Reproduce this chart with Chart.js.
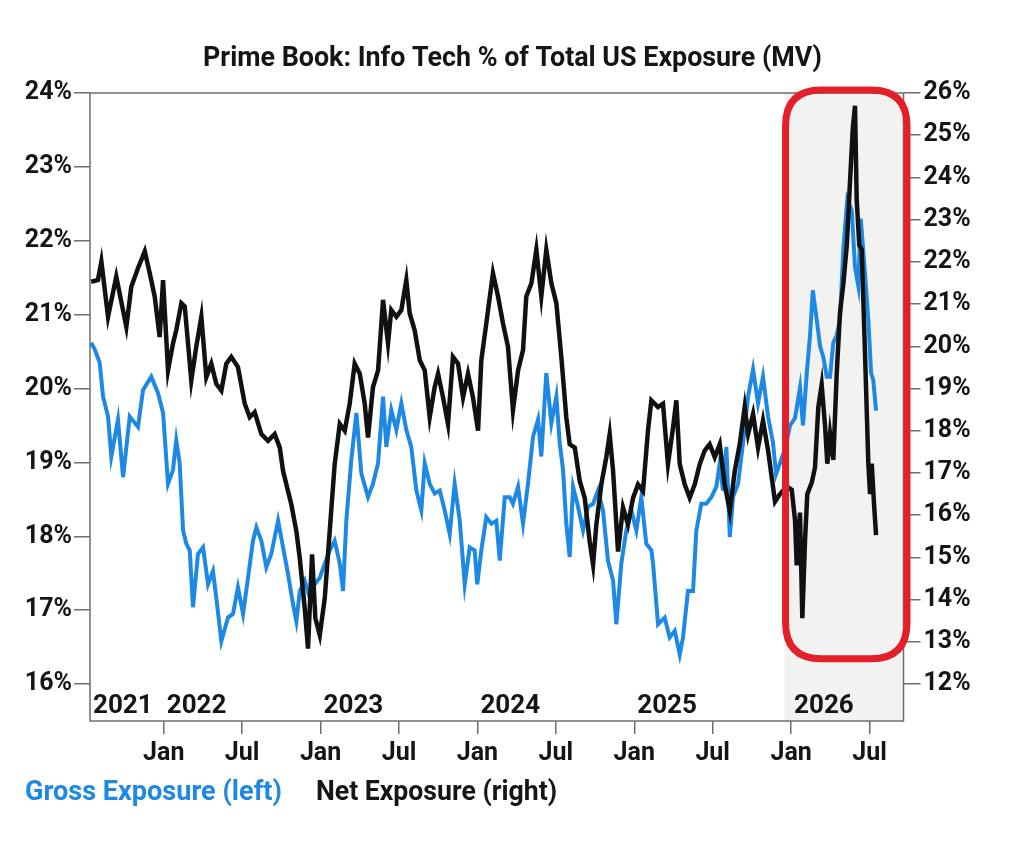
<!DOCTYPE html>
<html>
<head>
<meta charset="utf-8">
<title>Prime Book: Info Tech % of Total US Exposure (MV)</title>
<script src="https://cdn.jsdelivr.net/npm/chart.js@4.4.1/dist/chart.umd.min.js"></script>
<style>
    html, body { margin: 0; padding: 0; background: #fff; }
    #chart { display: block; }
</style>
</head>
<body>
<canvas id="chart" width="1032" height="849"></canvas>
<script>
// x values are months counted from Jan 1 2022 (negative = 2021)
const xMin = -5.64;
const xMax = 56.6;
const monthTicks = [0, 6, 12, 18, 24, 30, 36, 42, 48, 54];
const monthTickLabels = ['Jan', 'Jul', 'Jan', 'Jul', 'Jan', 'Jul', 'Jan', 'Jul', 'Jan', 'Jul'];
const yearLabels = ['2021', '2022', '2023', '2024', '2025', '2026'];
const yearLabelMonths = [xMin, 0, 12, 24, 36, 48];
const grossTicks = [16, 17, 18, 19, 20, 21, 22, 23, 24];
const netTicks = [12, 13, 14, 15, 16, 17, 18, 19, 20, 21, 22, 23, 24, 25, 26];

// highlighted window (grey shade + red frame)
const highlightStart = 47.5;
const highlightNetFloor = 12.6;

// Gross exposure, % (left axis)
const grossMonths = [
    -5.55, -5.28, -4.90, -4.64, -4.26, -4.01, -3.50, -3.11, -2.60, -1.97, -1.58, -0.95, -0.44, -0.05,
    0.33, 0.71, 0.96, 1.22, 1.48, 1.73, 1.99, 2.24, 2.62, 3.01, 3.39, 3.77, 4.02, 4.41, 4.92,
    5.30, 5.68, 6.07, 6.45, 6.83, 7.09, 7.47, 7.85, 8.23, 8.75, 9.13, 9.51, 9.89, 10.15, 10.41,
    10.79, 11.17, 11.55, 11.94, 12.32, 12.70, 13.08, 13.47, 13.72, 13.97, 14.35, 14.74, 15.12, 15.63,
    16.01, 16.40, 16.78, 17.03, 17.41, 17.80, 18.18, 18.56, 18.94, 19.33, 19.71, 19.97, 20.35, 20.73,
    21.12, 21.50, 21.88, 22.26, 22.65, 23.03, 23.41, 23.79, 23.99, 24.30, 24.68, 25.07, 25.45, 25.71,
    26.09, 26.47, 26.72, 27.11, 27.49, 27.87, 28.26, 28.64, 28.89, 29.27, 29.66, 30.04, 30.30, 30.55,
    30.80, 31.06, 31.32, 31.70, 32.08, 32.46, 32.85, 33.23, 33.61, 33.99, 34.38, 34.63, 35.01, 35.39,
    35.78, 36.16, 36.54, 36.92, 37.31, 37.44, 37.82, 38.33, 38.71, 39.10, 39.48, 39.73, 40.11, 40.50,
    40.75, 41.13, 41.51, 41.90, 42.28, 42.54, 42.79, 43.05, 43.31, 43.56, 43.94, 44.32, 44.71, 45.09,
    45.47, 45.85, 46.24, 46.62, 46.85, 47.15, 47.54, 47.92, 48.30, 48.68, 48.91, 49.20, 49.45, 49.66,
    49.96, 50.22, 50.47, 50.73, 50.98, 51.23, 51.49, 51.74, 52.00, 52.30, 52.64, 52.89, 53.14, 53.33,
    53.66, 53.91, 54.12, 54.29, 54.50
];
const grossValues = [
    20.62, 20.53, 20.35, 19.89, 19.62, 19.08, 19.58, 18.80, 19.62, 19.48, 19.98, 20.16, 19.94, 19.67,
    18.71, 18.90, 19.30, 18.99, 18.08, 17.90, 17.81, 17.04, 17.76, 17.85, 17.35, 17.53, 17.17, 16.58, 16.90,
    16.95, 17.31, 16.95, 17.44, 17.94, 18.12, 17.94, 17.58, 17.76, 18.21, 17.85, 17.49, 17.08, 16.85, 17.26,
    17.40, 17.17, 17.35, 17.44, 17.63, 17.81, 17.94, 17.63, 17.26, 18.21, 19.03, 19.67, 18.85, 18.53,
    18.71, 18.99, 19.89, 19.21, 19.71, 19.44, 19.80, 19.44, 19.21, 18.62, 18.35, 18.99, 18.71, 18.58,
    18.62, 18.35, 18.03, 18.71, 18.21, 17.35, 17.85, 17.81, 17.35, 17.81, 18.26, 18.17, 18.21, 17.67,
    18.53, 18.53, 18.44, 18.67, 18.17, 18.71, 19.35, 19.58, 19.08, 20.21, 19.53, 19.89, 19.26, 18.90,
    18.17, 17.72, 18.67, 18.40, 18.08, 18.40, 18.44, 18.62, 18.35, 17.67, 17.40, 16.81, 17.63, 18.08,
    18.35, 18.08, 18.53, 17.90, 17.81, 17.63, 16.81, 16.90, 16.63, 16.72, 16.40, 16.63, 17.26, 17.26,
    18.08, 18.44, 18.44, 18.53, 18.67, 18.99, 18.62, 19.21, 17.99, 18.53, 18.71, 19.26, 19.89, 20.26,
    19.80, 20.16, 19.62, 19.26, 18.84, 18.99, 19.19, 19.50, 19.60, 20.01, 19.50, 20.21, 20.72, 21.33,
    20.93, 20.57, 20.42, 20.16, 20.16, 20.62, 20.72, 20.93, 21.90, 22.56, 22.41, 21.64, 21.39, 22.30,
    21.54, 20.93, 20.21, 20.11, 19.70
];

// Net exposure, % (right axis)
const netMonths = [
    -5.55, -5.03, -4.77, -4.26, -3.63, -2.86, -2.48, -1.97, -1.45, -1.07, -0.69, -0.31, -0.05,
    0.33, 0.71, 0.96, 1.35, 1.61, 1.86, 2.11, 2.49, 2.88, 3.26, 3.64, 4.02, 4.41, 4.79, 5.17,
    5.68, 6.20, 6.58, 6.96, 7.47, 7.98, 8.49, 8.88, 9.13, 9.51, 9.76, 10.15, 10.41, 10.79, 11.04,
    11.35, 11.60, 11.94, 12.32, 12.70, 13.08, 13.47, 13.85, 14.23, 14.61, 15.00, 15.38, 15.63,
    16.01, 16.40, 16.78, 17.16, 17.41, 17.80, 18.18, 18.56, 18.82, 19.20, 19.59, 19.97, 20.35, 20.73,
    20.99, 21.37, 21.75, 22.13, 22.52, 22.90, 23.28, 23.66, 24.05, 24.30, 24.68, 25.19, 25.58, 25.96,
    26.34, 26.72, 27.11, 27.49, 27.74, 28.13, 28.51, 28.89, 29.27, 29.66, 30.04, 30.42, 30.80, 31.06,
    31.45, 31.83, 32.21, 32.59, 32.85, 33.10, 33.48, 33.86, 34.12, 34.38, 34.76, 35.14, 35.52, 35.91,
    36.29, 36.67, 37.05, 37.31, 37.82, 38.20, 38.58, 38.97, 39.22, 39.48, 39.86, 40.24, 40.63, 41.01,
    41.39, 41.77, 42.16, 42.54, 42.92, 43.31, 43.69, 44.07, 44.45, 44.71, 45.09, 45.47, 45.85, 46.24,
    46.77, 47.15, 47.67, 48.05, 48.30, 48.43, 48.68, 48.86, 49.07, 49.24, 49.58, 49.83, 50.08, 50.34,
    50.60, 50.77, 50.98, 51.23, 51.49, 51.74, 52.00, 52.26, 52.51, 52.72, 52.89, 53.02, 53.22, 53.40,
    53.65, 53.91, 54.04, 54.17, 54.35, 54.50
];
const netValues = [
    21.53, 21.57, 22.01, 20.70, 21.65, 20.46, 21.41, 21.85, 22.25, 21.73, 21.18, 20.22, 21.57,
    19.43, 20.07, 20.38, 21.02, 20.94, 20.07, 19.19, 19.99, 20.70, 19.27, 19.59, 19.11, 18.95, 19.59, 19.75,
    19.51, 18.64, 18.32, 18.44, 17.92, 17.76, 17.92, 17.60, 17.05, 16.57, 16.26, 15.62, 14.98, 13.79, 12.84,
    15.07, 13.56, 13.16, 14.03, 15.62, 17.21, 18.16, 18.00, 18.64, 19.59, 19.35, 18.64, 17.84,
    19.03, 19.43, 21.10, 20.07, 20.86, 20.70, 20.86, 21.57, 20.78, 20.38, 19.67, 19.43, 18.32, 19.03,
    19.35, 18.79, 18.16, 19.75, 19.59, 18.79, 19.35, 18.79, 18.00, 19.67, 20.54, 21.73, 21.18, 20.54,
    19.99, 18.48, 19.43, 19.91, 21.18, 21.49, 22.29, 21.18, 22.29, 21.49, 21.02, 19.75, 18.32, 17.68,
    17.60, 16.81, 16.41, 15.38, 14.83, 15.78, 16.73, 17.37, 17.92, 17.05, 15.14, 16.18, 15.78, 16.41,
    16.73, 16.57, 18.00, 18.72, 18.56, 18.64, 17.21, 18.08, 18.72, 17.21, 16.73, 16.41, 16.73, 17.21,
    17.53, 17.68, 17.37, 17.68, 16.73, 16.10, 17.05, 17.68, 18.56, 17.92, 18.40, 17.60, 18.24, 17.53,
    16.32, 16.50, 16.68, 16.60, 15.88, 14.81, 16.06, 13.56, 15.43, 16.50, 16.77, 17.13, 18.55, 19.09,
    18.11, 17.22, 17.93, 17.31, 19.36, 20.79, 21.49, 22.39, 23.91, 25.16, 25.70, 23.46, 22.39, 22.30,
    19.89, 17.22, 16.50, 17.22, 16.24, 15.53
];

const FONT_FAMILY = 'Roboto, "Liberation Sans", sans-serif';
const AXIS_COLOR = '#6e6e6e';
const TEXT_COLOR = '#151515';
const GROSS_COLOR = '#1e88e5';
const NET_COLOR = '#111111';
const HIGHLIGHT_RED = '#e3202a';

/**
 * Zip two arrays into {x, y} points
 */
function toPoints(xs, ys) {
    return xs.map((x, i) => ({ x: x, y: ys[i] }));
}

/**
 * Draw text squeezed (or stretched) to a given width
 */
function drawFittedText(ctx, text, x, y, width, align) {
    const natural = ctx.measureText(text).width;
    ctx.save();
    ctx.translate(x, y);
    ctx.scale(width / natural, 1);
    ctx.textAlign = align;
    ctx.fillText(text, 0, 0);
    ctx.restore();
}

/**
 * Rounded rectangle path (drawn by hand, no roundRect dependency)
 */
function roundedRectPath(ctx, left, top, right, bottom, r) {
    ctx.beginPath();
    ctx.moveTo(left + r, top);
    ctx.lineTo(right - r, top);
    ctx.quadraticCurveTo(right, top, right, top + r);
    ctx.lineTo(right, bottom - r);
    ctx.quadraticCurveTo(right, bottom, right - r, bottom);
    ctx.lineTo(left + r, bottom);
    ctx.quadraticCurveTo(left, bottom, left, bottom - r);
    ctx.lineTo(left, top + r);
    ctx.quadraticCurveTo(left, top, left + r, top);
    ctx.closePath();
}

// Grey shade of the recent window and year labels, under the lines
const backgroundPlugin = {
    id: 'background',
    beforeDatasetsDraw(chart) {
        const { ctx, chartArea, scales } = chart;
        const x0 = scales.x.getPixelForValue(highlightStart);
        ctx.save();
        ctx.fillStyle = '#f2f3f1';
        ctx.fillRect(x0, chartArea.top, chartArea.right - x0, chartArea.bottom - chartArea.top);

        ctx.fillStyle = TEXT_COLOR;
        ctx.font = 'bold 26px ' + FONT_FAMILY;
        ctx.textAlign = 'left';
        ctx.textBaseline = 'alphabetic';
        yearLabels.forEach((label, i) => {
            const px = scales.x.getPixelForValue(yearLabelMonths[i]) + 3;
            ctx.fillText(label, px, chartArea.bottom - 8);
        });
        ctx.restore();
    }
};

// Frame, red highlight box, title and legend text
const overlayPlugin = {
    id: 'overlay',
    afterDraw(chart) {
        const { ctx, chartArea, scales } = chart;
        ctx.save();

        // plot frame
        ctx.strokeStyle = AXIS_COLOR;
        ctx.lineWidth = 1.5;
        ctx.strokeRect(chartArea.left, chartArea.top, chartArea.right - chartArea.left, chartArea.bottom - chartArea.top);

        // red highlight box
        const boxLeft = scales.x.getPixelForValue(highlightStart) + 1;
        const boxBottom = scales.yNet.getPixelForValue(highlightNetFloor);
        ctx.strokeStyle = HIGHLIGHT_RED;
        ctx.lineWidth = 7;
        roundedRectPath(ctx, boxLeft, chartArea.top - 3, chartArea.right + 3.5, boxBottom, 36);
        ctx.stroke();

        // title
        ctx.fillStyle = TEXT_COLOR;
        ctx.font = 'bold 28px ' + FONT_FAMILY;
        ctx.textBaseline = 'alphabetic';
        drawFittedText(ctx, 'Prime Book: Info Tech % of Total US Exposure (MV)', 512.5, 66, 619, 'center');

        // legend
        ctx.fillStyle = GROSS_COLOR;
        drawFittedText(ctx, 'Gross Exposure (left)', 25, 800, 257, 'left');
        ctx.fillStyle = TEXT_COLOR;
        drawFittedText(ctx, 'Net Exposure (right)', 316, 800, 241, 'left');

        ctx.restore();
    }
};

function tickFont() {
    return { family: FONT_FAMILY, size: 25, weight: 'bold' };
}

function buildChart() {
    const ctx = document.getElementById('chart').getContext('2d');

    new Chart(ctx, {
        type: 'line',
        data: {
            datasets: [
                {
                    label: 'Net Exposure (right)',
                    data: toPoints(netMonths, netValues),
                    yAxisID: 'yNet',
                    borderColor: NET_COLOR,
                    borderWidth: 4.5,
                    pointRadius: 0,
                    tension: 0,
                    order: 0
                },
                {
                    label: 'Gross Exposure (left)',
                    data: toPoints(grossMonths, grossValues),
                    yAxisID: 'yGross',
                    borderColor: GROSS_COLOR,
                    borderWidth: 4,
                    pointRadius: 0,
                    tension: 0,
                    order: 1
                }
            ]
        },
        options: {
            responsive: false,
            animation: false,
            devicePixelRatio: 1,
            layout: { padding: { top: 93, bottom: 68, left: 0, right: 0 } },
            plugins: {
                legend: { display: false },
                title: { display: false },
                tooltip: { enabled: false }
            },
            scales: {
                x: {
                    type: 'linear',
                    min: xMin,
                    max: xMax,
                    afterBuildTicks: scale => { scale.ticks = monthTicks.map(v => ({ value: v })); },
                    afterFit: scale => { scale.height = 60; },
                    border: { display: false },
                    grid: { drawOnChartArea: false, drawTicks: true, tickLength: 13, color: AXIS_COLOR, lineWidth: 1.5 },
                    ticks: {
                        autoSkip: false,
                        maxRotation: 0,
                        padding: 5,
                        color: TEXT_COLOR,
                        font: tickFont(),
                        callback: value => monthTickLabels[monthTicks.indexOf(value)]
                    }
                },
                yGross: {
                    type: 'linear',
                    position: 'left',
                    min: 15.5,
                    max: 24,
                    afterBuildTicks: scale => { scale.ticks = grossTicks.map(v => ({ value: v })); },
                    afterFit: scale => { scale.width = 90; },
                    border: { display: false },
                    grid: { drawOnChartArea: false, drawTicks: true, tickLength: 16, color: AXIS_COLOR, lineWidth: 1.5 },
                    ticks: { padding: 2, color: TEXT_COLOR, font: tickFont(), callback: value => value + '%' }
                },
                yNet: {
                    type: 'linear',
                    position: 'right',
                    min: 11.125,
                    max: 26,
                    afterBuildTicks: scale => { scale.ticks = netTicks.map(v => ({ value: v })); },
                    afterFit: scale => { scale.width = 128.5; },
                    border: { display: false },
                    grid: { drawOnChartArea: false, drawTicks: true, tickLength: 17, color: AXIS_COLOR, lineWidth: 1.5 },
                    ticks: { padding: 3, color: TEXT_COLOR, font: tickFont(), callback: value => value + '%' }
                }
            }
        },
        plugins: [backgroundPlugin, overlayPlugin]
    });
}

document.addEventListener('DOMContentLoaded', function() {
    const loads = [document.fonts.load('bold 25px Roboto'), document.fonts.load('bold 28px Roboto')];
    Promise.all(loads).then(buildChart, buildChart);
});
</script>
</body>
</html>
